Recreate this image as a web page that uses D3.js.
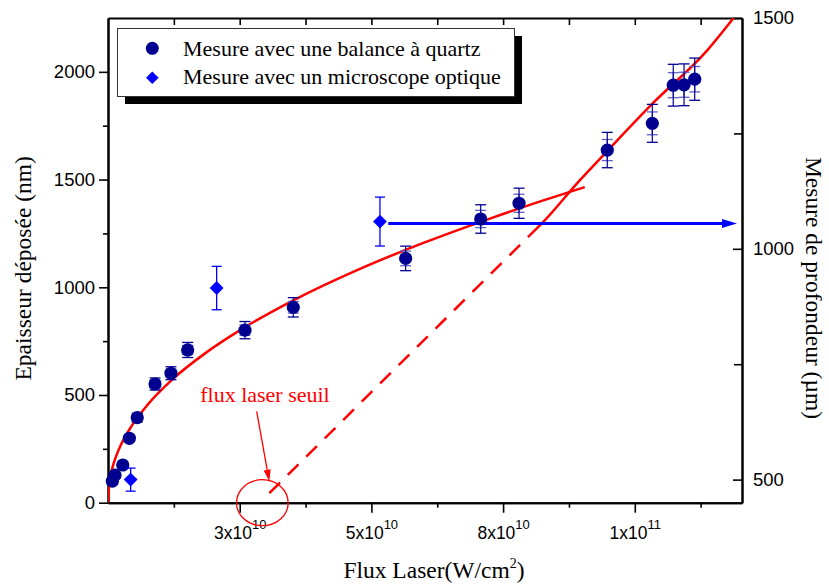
<!DOCTYPE html>
<html>
<head>
<meta charset="utf-8">
<script src="https://cdn.jsdelivr.net/npm/d3@7"></script>
<style>
  body { margin: 0; background: #fff; }
  svg { display: block; }
</style>
</head>
<body>
<svg id="chart" width="829" height="587"></svg>
<script>
// Flux is placed in axis units: one unit per labelled major tick.
const xTickPos = [1, 2, 3, 4];
const xTickMant = ["3x10", "5x10", "8x10", "1x10"];
const xTickExp = ["10", "10", "10", "11"];
const xMinorTicks = [0.5, 1.5, 2.5, 3.5, 4.5];
const yLeftTicks = [0, 500, 1000, 1500, 2000];
const yLeftMinor = [250, 750, 1250, 1750];
const yRightTicks = [500, 1000, 1500];
const yRightMinor = [750, 1250];

// Deposited thickness measured with the quartz balance (nm)
const quartzFlux = [0.033, 0.053, 0.112, 0.162, 0.222, 0.357, 0.478, 0.605, 1.040,
                    1.407, 2.260, 2.830, 3.121, 3.791, 4.133, 4.292, 4.374, 4.455];
const quartzThick = [100, 128, 175, 299, 395, 551, 601, 709, 801,
                     907, 1134, 1317, 1390, 1637, 1761, 1938, 1940, 1966];
const quartzErrOuter = [5, 6, 9, 15, 20, 28, 30, 35, 40, 45, 57, 66, 70, 82, 88, 97, 97, 98];
const quartzErrInner = [3, 4, 5, 9, 12, 17, 18, 21, 24, 27, 34, 40, 42, 49, 53, 58, 58, 59];

// Crater depth measured with the optical microscope (µm, right axis)
const microFlux = [0.172, 0.825, 2.065];
const microDepth = [500, 915, 1059];
const microErr = [25, 47, 53];

// Fitted curve of the low-flux regime (nm)
const fitFlux = [0, 0.01, 0.03, 0.06, 0.1, 0.18, 0.3, 0.5, 0.75, 1.0, 1.4, 1.9, 2.4, 2.9, 3.3, 3.62];
const fitThick = [0, 92, 154, 213, 271, 357, 454, 578, 699, 800, 937, 1082, 1207, 1319, 1402, 1465];

// High-flux line, extrapolated (dashed) down to zero thickness
const lineDashFlux = [1.225, 3.20];
const lineDashThick = [44, 1240];
const lineSolidFlux = [3.20, 3.30, 3.58, 3.79, 4.13, 4.55, 4.75];
const lineSolidThick = [1240, 1300, 1495, 1632, 1850, 2100, 2250];

// Arrow carrying the microscope reading to the depth axis
const depthArrowFlux = [2.128, 4.776];
const depthArrowValue = 1055;

// Threshold annotation (flux units / nm)
const seuilCenter = [1.172, 0];
const seuilLabelPos = [0.70, 469];
const seuilArrowFrom = [1.129, 424];
const seuilArrowTo = [1.225, 98];

const W = 829, H = 587;
const margin = { left: 108, right: 87, top: 18, bottom: 84.3 };
const x0 = margin.left, x1 = W - margin.right;
const y0 = H - margin.bottom, y1 = margin.top;

const x = d3.scaleLinear().domain([0, 4.814]).range([x0, x1]);
const yL = d3.scaleLinear().domain([0, 2250]).range([y0, y1]);
const yR = d3.scaleLinear().domain([450, 1500]).range([y0, y1]);

const svg = d3.select("#chart");
const sans = "'Liberation Sans', Arial, sans-serif";
const serif = "'Liberation Serif', 'Times New Roman', serif";
const intFmt = d3.format("d");

const navy = "#000090";
const blue = "#0000ff";
const red = "#ff0000";

// ---- axes ----
function styleAxis(g) {
  g.select(".domain").attr("stroke", "#000").attr("stroke-width", 2);
  g.selectAll(".tick line").attr("stroke", "#000").attr("stroke-width", 1.6);
  g.selectAll(".tick text").attr("font-family", sans).attr("font-size", 18.5).attr("fill", "#000");
}

// left
svg.append("g").attr("transform", `translate(${x0},0)`)
  .call(d3.axisLeft(yL).tickValues(yLeftTicks).tickFormat(intFmt).tickSize(9).tickPadding(4).tickSizeOuter(0))
  .call(styleAxis);
svg.append("g").attr("transform", `translate(${x0},0)`)
  .call(d3.axisLeft(yL).tickValues(yLeftMinor).tickSize(5).tickFormat("").tickSizeOuter(0))
  .call(styleAxis);

// right (ticks point inward)
svg.append("g").attr("transform", `translate(${x1},0)`)
  .call(d3.axisRight(yR).tickValues(yRightTicks).tickFormat(intFmt).tickSizeInner(-9).tickSizeOuter(0).tickPadding(11))
  .call(styleAxis);
svg.append("g").attr("transform", `translate(${x1},0)`)
  .call(d3.axisRight(yR).tickValues(yRightMinor).tickSizeInner(-8).tickSizeOuter(0).tickFormat(""))
  .call(styleAxis);

// top (ticks point inward, no labels)
svg.append("g").attr("transform", `translate(0,${y1})`)
  .call(d3.axisTop(x).tickValues(xTickPos.concat(xMinorTicks)).tickSizeInner(-7).tickSizeOuter(0).tickFormat(""))
  .call(styleAxis);

// bottom
const gx = svg.append("g").attr("transform", `translate(0,${y0})`)
  .call(d3.axisBottom(x).tickValues(xTickPos).tickSize(10).tickSizeOuter(0).tickFormat(""))
  .call(styleAxis);
svg.append("g").attr("transform", `translate(0,${y0})`)
  .call(d3.axisBottom(x).tickValues(xMinorTicks).tickSize(5).tickSizeOuter(0).tickFormat(""))
  .call(styleAxis);
gx.selectAll(".tick").each(function (d, i) {
  const t = d3.select(this).append("text")
    .attr("y", 36).attr("text-anchor", "middle")
    .attr("font-family", sans).attr("font-size", 17.5).attr("fill", "#000");
  t.append("tspan").text(xTickMant[i]);
  t.append("tspan").attr("dy", -10).attr("font-size", 13).text(xTickExp[i]);
});

// ---- axis titles ----
svg.append("text")
  .attr("transform", `translate(31,${(y0 + y1) / 2 + 8}) rotate(-90)`)
  .attr("text-anchor", "middle").attr("font-family", serif).attr("font-size", 23.5)
  .text("Epaisseur déposée (nm)");

svg.append("text")
  .attr("transform", `translate(806,288) rotate(90)`)
  .attr("text-anchor", "middle").attr("font-family", serif).attr("font-size", 23.5)
  .text("Mesure de profondeur (µm)");

const xt = svg.append("text")
  .attr("x", 434).attr("y", 578)
  .attr("text-anchor", "middle").attr("font-family", serif).attr("font-size", 23.5);
xt.append("tspan").text("Flux Laser(W/cm");
xt.append("tspan").attr("dy", -10).attr("font-size", 14).text("2");
xt.append("tspan").attr("dy", 10).text(")");

// ---- fitted lines ----
const lineL = d3.line().x(d => x(d[0])).y(d => yL(d[1])).curve(d3.curveMonotoneX);
const plot = svg.append("g");
plot.append("clipPath").attr("id", "clip").append("rect")
  .attr("x", x0).attr("y", y1).attr("width", x1 - x0).attr("height", y0 - y1);
const clipped = plot.append("g").attr("clip-path", "url(#clip)");

clipped.append("path")
  .attr("d", lineL(fitFlux.map((f, i) => [f, fitThick[i]])))
  .attr("fill", "none").attr("stroke", red).attr("stroke-width", 2.5);

clipped.append("path")
  .attr("d", lineL(lineDashFlux.map((f, i) => [f, lineDashThick[i]])))
  .attr("fill", "none").attr("stroke", red).attr("stroke-width", 2.5)
  .attr("stroke-dasharray", "15,11");

clipped.append("path")
  .attr("d", lineL(lineSolidFlux.map((f, i) => [f, lineSolidThick[i]])))
  .attr("fill", "none").attr("stroke", red).attr("stroke-width", 2.5);

// ---- depth arrow ----
const ay = yR(depthArrowValue);
const ax0 = x(depthArrowFlux[0]), ax1 = x(depthArrowFlux[1]);
svg.append("line")
  .attr("x1", ax0).attr("x2", ax1 - 12).attr("y1", ay).attr("y2", ay)
  .attr("stroke", blue).attr("stroke-width", 3);
svg.append("path")
  .attr("d", `M${ax1},${ay} L${ax1 - 15},${ay - 4.5} L${ax1 - 15},${ay + 4.5} Z`)
  .attr("fill", blue);

// ---- quartz data with error bars ----
const qData = quartzFlux.map((f, i) => ({ f, v: quartzThick[i], eo: quartzErrOuter[i], ei: quartzErrInner[i] }));
const qg = svg.append("g");
qData.forEach(d => {
  const cx = x(d.f);
  const g = qg.append("g");
  // inner error bar (lighter)
  g.append("line").attr("x1", cx).attr("x2", cx).attr("y1", yL(d.v - d.ei)).attr("y2", yL(d.v + d.ei))
    .attr("stroke", "#5050c0").attr("stroke-width", 1.2);
  [d.v - d.ei, d.v + d.ei].forEach(v =>
    g.append("line").attr("x1", cx - 5.5).attr("x2", cx + 5.5).attr("y1", yL(v)).attr("y2", yL(v))
      .attr("stroke", "#6060c8").attr("stroke-width", 1.3));
  // outer error bar
  g.append("line").attr("x1", cx).attr("x2", cx).attr("y1", yL(d.v - d.eo)).attr("y2", yL(d.v + d.eo))
    .attr("stroke", navy).attr("stroke-width", 1.2);
  [d.v - d.eo, d.v + d.eo].forEach(v =>
    g.append("line").attr("x1", cx - 5.5).attr("x2", cx + 5.5).attr("y1", yL(v)).attr("y2", yL(v))
      .attr("stroke", navy).attr("stroke-width", 1.3));
});
qg.selectAll("circle").data(qData).join("circle")
  .attr("cx", d => x(d.f)).attr("cy", d => yL(d.v)).attr("r", 6.6)
  .attr("fill", navy);

// ---- microscope data with error bars ----
const mData = microFlux.map((f, i) => ({ f, v: microDepth[i], e: microErr[i] }));
const mg = svg.append("g");
mData.forEach(d => {
  const cx = x(d.f);
  mg.append("line").attr("x1", cx).attr("x2", cx).attr("y1", yR(d.v - d.e)).attr("y2", yR(d.v + d.e))
    .attr("stroke", blue).attr("stroke-width", 1.3);
  [d.v - d.e, d.v + d.e].forEach(v =>
    mg.append("line").attr("x1", cx - 5).attr("x2", cx + 5).attr("y1", yR(v)).attr("y2", yR(v))
      .attr("stroke", blue).attr("stroke-width", 1.3));
});
mg.selectAll("path.dia").data(mData).join("path").attr("class", "dia")
  .attr("transform", d => `translate(${x(d.f)},${yR(d.v)}) rotate(45)`)
  .attr("d", d3.symbol().type(d3.symbolSquare).size(96))
  .attr("fill", blue);

// ---- threshold annotation ----
svg.append("ellipse")
  .attr("cx", x(seuilCenter[0])).attr("cy", yL(seuilCenter[1]))
  .attr("rx", 25.8).attr("ry", 23)
  .attr("fill", "none").attr("stroke", red).attr("stroke-width", 1.3);

svg.append("text")
  .attr("x", x(seuilLabelPos[0])).attr("y", yL(seuilLabelPos[1]))
  .attr("font-family", serif).attr("font-size", 22).attr("fill", red)
  .text("flux laser seuil");

{
  const sx = x(seuilArrowFrom[0]), sy = yL(seuilArrowFrom[1]);
  const ex = x(seuilArrowTo[0]), ey = yL(seuilArrowTo[1]);
  const ang = Math.atan2(ey - sy, ex - sx);
  const L = 12, Wd = 3.5;
  const bx = ex - L * Math.cos(ang), by = ey - L * Math.sin(ang);
  svg.append("line").attr("x1", sx).attr("y1", sy).attr("x2", bx).attr("y2", by)
    .attr("stroke", red).attr("stroke-width", 1.3);
  svg.append("path")
    .attr("d", `M${ex},${ey} L${bx + Wd * Math.sin(ang)},${by - Wd * Math.cos(ang)} L${bx - Wd * Math.sin(ang)},${by + Wd * Math.cos(ang)} Z`)
    .attr("fill", red);
}

// ---- legend ----
const lg = svg.append("g");
lg.append("rect").attr("x", 125).attr("y", 36).attr("width", 397).attr("height", 68).attr("fill", "#000");
lg.append("rect").attr("x", 117.5).attr("y", 28.5).attr("width", 397).attr("height", 68)
  .attr("fill", "#fff").attr("stroke", "#333").attr("stroke-width", 1);
lg.append("circle").attr("cx", 152.3).attr("cy", 48.3).attr("r", 6.5).attr("fill", navy);
lg.append("path").attr("transform", "translate(152.3,77.7) rotate(45)")
  .attr("d", d3.symbol().type(d3.symbolSquare).size(80)).attr("fill", blue);
lg.append("text").attr("x", 183).attr("y", 55.5)
  .attr("font-family", serif).attr("font-size", 22).text("Mesure avec une balance à quartz");
lg.append("text").attr("x", 183).attr("y", 84)
  .attr("font-family", serif).attr("font-size", 22).text("Mesure avec un microscope optique");
</script>
</body>
</html>
